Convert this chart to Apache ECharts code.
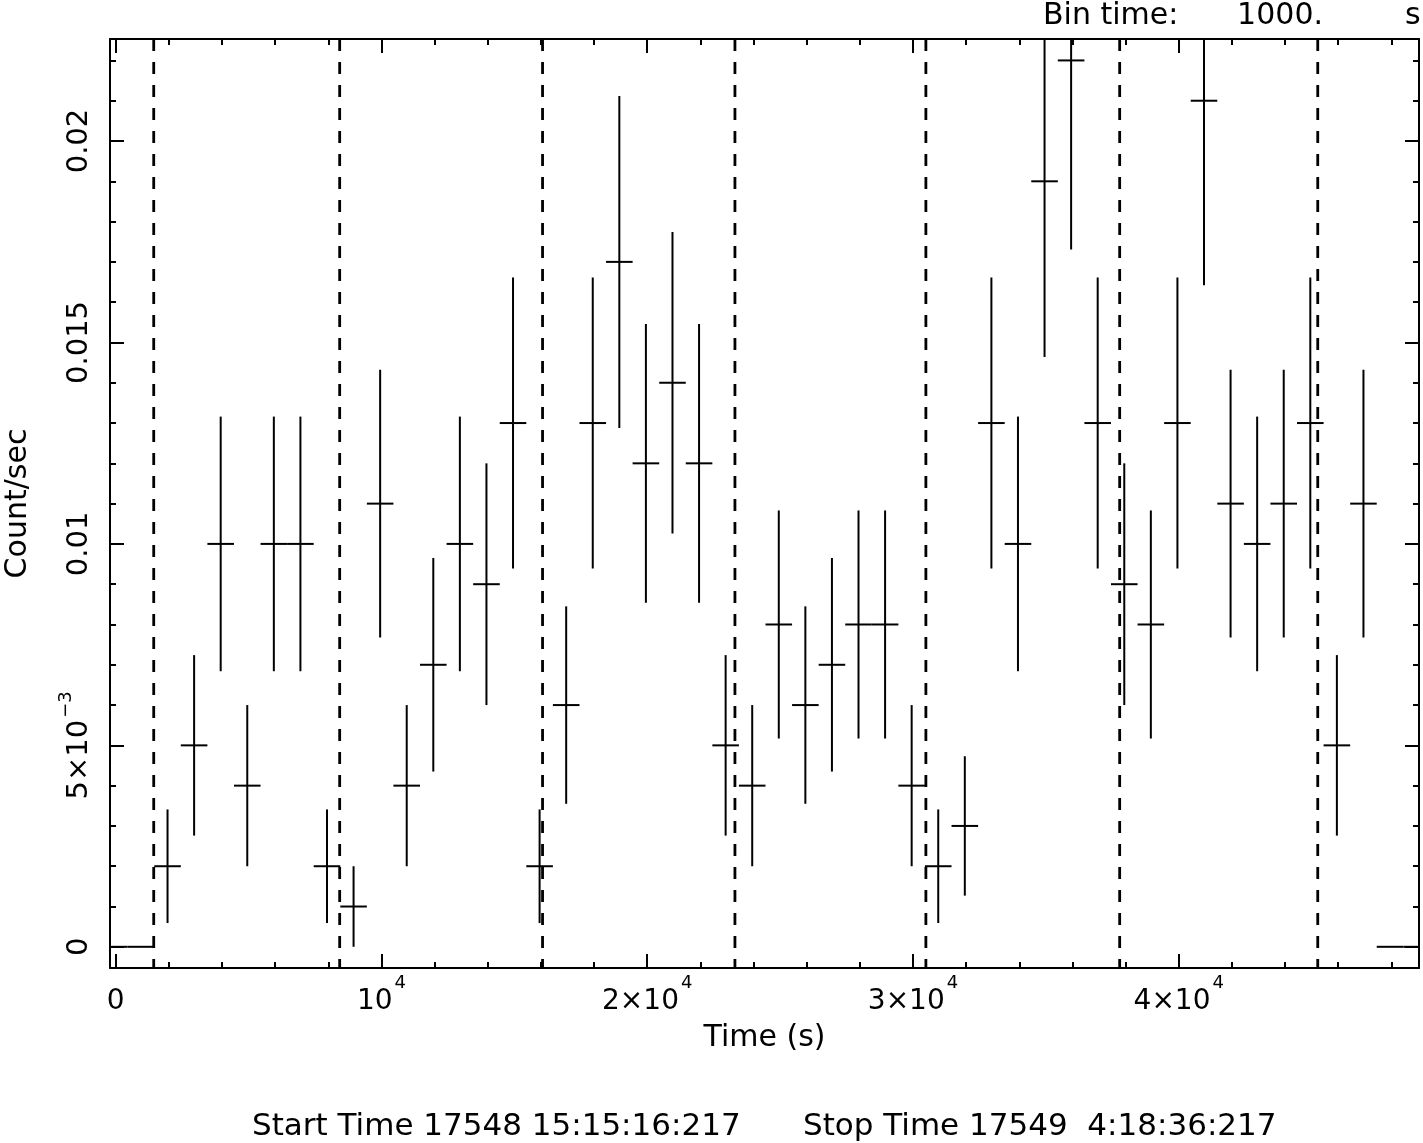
<!DOCTYPE html>
<html><head><meta charset="utf-8">
<script src="https://cdn.jsdelivr.net/npm/echarts@6/dist/echarts.min.js"></script>
<style>html,body{margin:0;padding:0;background:#fff}#c{width:1423px;height:1143px}</style>
</head><body><div id="c"></div>
<script>
// ---- data ----
const binTime = 1000; // s
const binCenters = [-50, 950, 1950, 2950, 3950, 4950, 5950, 6950, 7950, 8950,
  9950, 10950, 11950, 12950, 13950, 14950, 15950, 16950, 17950, 18950,
  19950, 20950, 21950, 22950, 23950, 24950, 25950, 26950, 27950, 28950,
  29950, 30950, 31950, 32950, 33950, 34950, 35950, 36950, 37950, 38950,
  39950, 40950, 41950, 42950, 43950, 44950, 45950, 46950, 47950, 48950];
const rates = [0, 0, 0.002, 0.005, 0.010, 0.004, 0.010, 0.010, 0.002, 0.001,
  0.011, 0.004, 0.007, 0.010, 0.009, 0.013, 0.002, 0.006, 0.013, 0.017,
  0.012, 0.014, 0.012, 0.005, 0.004, 0.008, 0.006, 0.007, 0.008, 0.008,
  0.004, 0.002, 0.003, 0.013, 0.010, 0.019, 0.022, 0.013, 0.009, 0.008,
  0.013, 0.021, 0.011, 0.010, 0.011, 0.013, 0.005, 0.011, 0, 0];
const rateErrors = [0, 0, 0.00141, 0.00224, 0.00316, 0.0020, 0.00316, 0.00316, 0.00141, 0.0010,
  0.00332, 0.0020, 0.00265, 0.00316, 0.0030, 0.00361, 0.00141, 0.00245, 0.00361, 0.00412,
  0.00346, 0.00374, 0.00346, 0.00224, 0.0020, 0.00283, 0.00245, 0.00265, 0.00283, 0.00283,
  0.0020, 0.00141, 0.00173, 0.00361, 0.00316, 0.00436, 0.00469, 0.00361, 0.0030, 0.00283,
  0.00361, 0.00458, 0.00332, 0.00316, 0.00332, 0.00361, 0.00224, 0.00332, 0, 0];
const gtiBoundaries = [1430, 8427, 16061, 23300, 30485, 37777, 45230];

const xMin = -215, xMax = 49040;
const yMin = -0.000526, yMax = 0.022532;
const xMajorTicks = [0, 10000, 20000, 30000, 40000];
const xMajorLabels = [['0', ''], ['10', '4'], ['2×10', '4'], ['3×10', '4'], ['4×10', '4']];
const xMinorTicks = [2000, 4000, 6000, 8000, 12000, 14000, 16000, 18000, 22000, 24000, 26000, 28000,
  32000, 34000, 36000, 38000, 42000, 44000, 46000, 48000];
const yMajorTicks = [0, 0.005, 0.01, 0.015, 0.02];
const yMajorLabels = [['0', ''], ['5×10', '−3'], ['0.01', ''], ['0.015', ''], ['0.02', '']];
const yMinorTicks = [0.001, 0.002, 0.003, 0.004, 0.006, 0.007, 0.008, 0.009, 0.011, 0.012, 0.013, 0.014,
  0.016, 0.017, 0.018, 0.019, 0.021, 0.022];

const FONT = 'DejaVu Sans';
const BLACK = '#000';

function labelFmt(ticks, labels) {
  return function (v) {
    let idx = ticks.findIndex(t => Math.abs(t - v) < 1e-9 * Math.max(1, Math.abs(t)) + 1e-12);
    if (idx < 0) return '';
    const [b, s] = labels[idx];
    return s ? '{b|' + b + '}{s|' + s + '}' : '{b|' + b + '}';
  };
}
function richFor(size, extra) {
  return {
    b: { fontFamily: FONT, fontSize: size, color: BLACK, lineHeight: size + extra, verticalAlign: 'bottom' },
    s: { fontFamily: FONT, fontSize: 18, color: BLACK, lineHeight: 18, verticalAlign: 'top', padding: [0, 0, 0, 2] }
  };
}

function xAxisDef(pos, ticks, len, withLine, labelled) {
  return {
    type: 'value', position: pos, min: xMin, max: xMax, offset: 0,
    axisLine: { show: withLine, onZero: false, lineStyle: { color: BLACK, width: 2 } },
    axisTick: { show: true, inside: true, length: len, customValues: ticks, lineStyle: { color: BLACK, width: 2 } },
    axisLabel: labelled ? { show: true, customValues: ticks, margin: 6, formatter: labelFmt(xMajorTicks, xMajorLabels), rich: richFor(28, 14) } : { show: false },
    splitLine: { show: false },
    name: labelled ? 'Time (s)' : '',
    nameLocation: 'middle', nameGap: 55,
    nameTextStyle: { fontFamily: FONT, fontSize: 30, color: BLACK }
  };
}
function yAxisDef(pos, ticks, len, withLine, labelled) {
  return {
    type: 'value', position: pos, min: yMin, max: yMax, offset: 0,
    axisLine: { show: withLine, onZero: false, lineStyle: { color: BLACK, width: 2 } },
    axisTick: { show: true, inside: true, length: len, customValues: ticks, lineStyle: { color: BLACK, width: 2 } },
    axisLabel: labelled ? { show: true, rotate: 90, customValues: ticks, margin: 16, formatter: labelFmt(yMajorTicks, yMajorLabels), rich: richFor(29, 8) } : { show: false },
    splitLine: { show: false },
    name: labelled ? 'Count/sec' : '',
    nameLocation: 'middle', nameGap: 77,
    nameTextStyle: { fontFamily: FONT, fontSize: 30, color: BLACK }
  };
}

const chart = echarts.init(document.getElementById('c'), null, { renderer: 'canvas' });
chart.setOption({
  animation: false,
  backgroundColor: '#fff',
  grid: { left: 110, top: 39, right: 4, bottom: 175, containLabel: false, outerBoundsMode: 'none' },
  xAxis: [
    xAxisDef('bottom', xMajorTicks, 14, true, true),
    xAxisDef('bottom', xMinorTicks, 6, false, false),
    xAxisDef('top', xMajorTicks, 14, true, false),
    xAxisDef('top', xMinorTicks, 6, false, false)
  ],
  yAxis: [
    yAxisDef('left', yMajorTicks, 14, true, true),
    yAxisDef('left', yMinorTicks, 6, false, false),
    yAxisDef('right', yMajorTicks, 14, true, false),
    yAxisDef('right', yMinorTicks, 6, false, false)
  ],
  graphic: [
    { type: 'text', left: 1043, top: 1, style: { text: 'Bin time:', font: '30px "DejaVu Sans"', fill: BLACK } },
    { type: 'text', right: 100, top: 1, style: { text: binTime.toFixed(0) + '.', font: '30px "DejaVu Sans"', fill: BLACK } },
    { type: 'text', left: 1405, top: 1, style: { text: 's', font: '30px "DejaVu Sans"', fill: BLACK } },
    { type: 'text', left: 252, top: 1111, style: { text: 'Start Time 17548 15:15:16:217', font: '31px "DejaVu Sans"', fill: BLACK } },
    { type: 'text', left: 803, top: 1111, style: { text: 'Stop Time 17549  4:18:36:217', font: '31px "DejaVu Sans"', fill: BLACK } }
  ],
  series: [
    {
      type: 'custom', name: 'GTI', xAxisIndex: 0, yAxisIndex: 0, clip: true,
      encode: { x: 0, y: 1 },
      data: gtiBoundaries.map(t => [t, 0]),
      renderItem: function (params, api) {
        const cs = params.coordSys;
        const x = api.coord([api.value(0), 0])[0];
        return {
          type: 'line',
          shape: { x1: x, y1: cs.y, x2: x, y2: cs.y + cs.height },
          style: { stroke: BLACK, lineWidth: 2.8, lineDash: [12, 11] }
        };
      }
    },
    {
      type: 'custom', name: 'Rate', xAxisIndex: 0, yAxisIndex: 0, clip: true,
      encode: { x: 0, y: 1 },
      data: binCenters.map((t, i) => [t, rates[i], rateErrors[i]]),
      renderItem: function (params, api) {
        const t = api.value(0), v = api.value(1), e = api.value(2);
        const half = binTime / 2;
        const l = api.coord([t - half, v]);
        const r = api.coord([t + half, v]);
        const children = [{
          type: 'line', shape: { x1: l[0], y1: l[1], x2: r[0], y2: r[1] },
          style: { stroke: BLACK, lineWidth: 2 }
        }];
        if (e > 0) {
          const hi = api.coord([t, v + e]);
          const lo = api.coord([t, v - e]);
          children.push({
            type: 'line', shape: { x1: hi[0], y1: hi[1], x2: lo[0], y2: lo[1] },
            style: { stroke: BLACK, lineWidth: 2 }
          });
        }
        return { type: 'group', children: children };
      }
    }
  ]
});
</script>
</body></html>
